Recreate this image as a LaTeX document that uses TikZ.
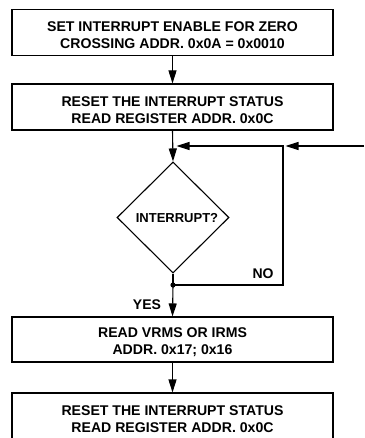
\documentclass[tikz,border=0pt]{standalone}
\usepackage{fontspec}
\setmainfont{Liberation Sans}
\usetikzlibrary{arrows.meta,shapes.geometric}
\newcommand\dnstrut{\rule{0pt}{16pt}}
\tikzset{
  box/.style={draw, line width=1.1pt, minimum width=321pt, minimum height=46pt, inner sep=0pt, align=center, font=\bfseries\fontsize{14.1}{17}\selectfont},
  lbl/.style={font=\bfseries\fontsize{14}{15}\selectfont, inner sep=0pt},
  conn/.style={line width=1.1pt},
  arr/.style={line width=1.1pt, -{Triangle[length=13pt,width=8pt]}}
}
\begin{document}
\begin{tikzpicture}[x=1pt,y=-1pt]
\useasboundingbox (0,0) rectangle (364,438);
\node[box] (b1) at (172.5,32.5) {\dnstrut SET INTERRUPT ENABLE FOR ZERO\\CROSSING ADDR. 0x0A = 0x0010};
\node[box] (b2) at (172.5,107) {\dnstrut RESET THE INTERRUPT STATUS\\READ REGISTER ADDR. 0x0C};
\node[draw, diamond, line width=1.1pt, minimum width=112pt, minimum height=111pt, inner sep=0pt] (dia) at (173,217.5) {};
\node[lbl, font=\bfseries\fontsize{13}{15}\selectfont] (diat) at (177,218.5) {INTERRUPT?};
\node[box, minimum height=45pt] (b3) at (172.5,339.5) {\dnstrut READ VRMS OR IRMS\\ADDR. 0x17; 0x16};
\node[box, minimum height=47pt] (b4) at (172.5,416.5) {\dnstrut RESET THE INTERRUPT STATUS\\READ REGISTER ADDR. 0x0C};
\coordinate (j) at (173,285);
\coordinate (fb) at (176.5,146);
\coordinate (k) at (283,146);
\coordinate (kb) at (283,285);
\coordinate (in) at (364,146);
\coordinate (kin) at (285.5,146);
\draw[arr] (b1.south) -- (b2.north);
\draw[arr] (b2.south) -- (dia.north);
\draw[conn] (dia.south) -- (j);
\draw[arr] (j) -- (b3.north);
\draw[arr] (b3.south) -- (b4.north);
\draw[arr] (j) -- (kb) -- (k) -- (fb);
\draw[arr] (in) -- (kin);
\fill (j) circle (2.6pt);
\node[lbl] (no) at (263,274) {NO};
\node[lbl] (yes) at (147,305) {YES};
\end{tikzpicture}
\end{document}
